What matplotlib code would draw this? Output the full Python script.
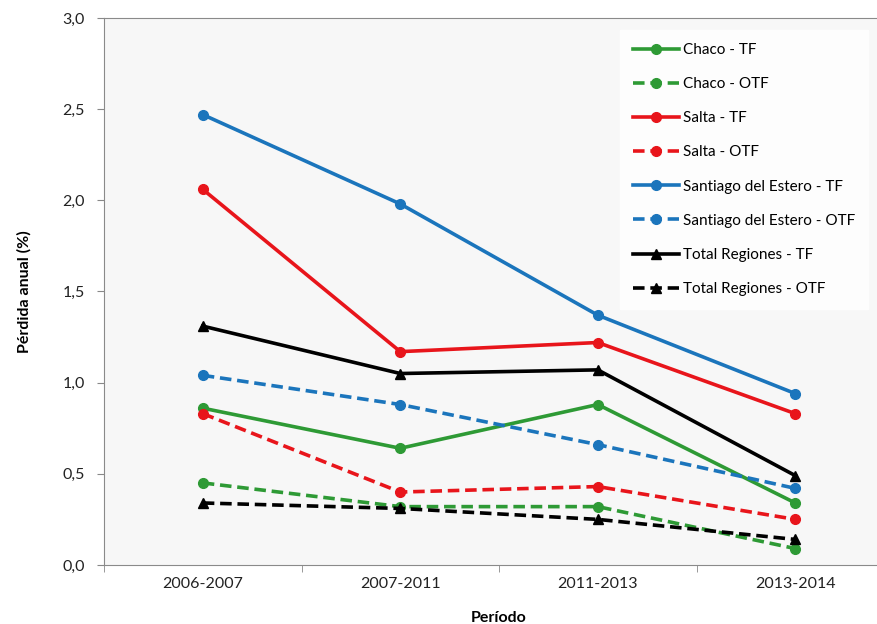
import matplotlib.pyplot as plt
from matplotlib.ticker import FixedLocator, FuncFormatter

plt.rcParams['font.family'] = ['Lato', 'DejaVu Sans']

# datos
periodos = ['2006-2007', '2007-2011', '2011-2013', '2013-2014']

chaco_tf = [0.86, 0.64, 0.88, 0.34]
chaco_otf = [0.45, 0.32, 0.32, 0.09]
salta_tf = [2.06, 1.17, 1.22, 0.83]
salta_otf = [0.83, 0.40, 0.43, 0.25]
santiago_tf = [2.47, 1.98, 1.37, 0.94]
santiago_otf = [1.04, 0.88, 0.66, 0.42]
total_tf = [1.31, 1.05, 1.07, 0.49]
total_otf = [0.34, 0.31, 0.25, 0.14]

verde = '#2e9a35'
rojo = '#e8151b'
azul = '#1b75bc'
negro = '#000000'

fig = plt.figure(figsize=(8.78, 6.24), dpi=100)
ax = fig.add_axes([0.1185, 0.0946, 0.8998, 0.8766])
ax.set_facecolor('#f7f7f7')

x = range(len(periodos))
dash = (0, (3.2, 1.6))
lw = 2.6
ms = 7

ax.plot(x, chaco_tf, color=verde, lw=lw, marker='o', ms=ms, label='Chaco - TF')
ax.plot(x, chaco_otf, color=verde, lw=lw, ls=dash, marker='o', ms=ms, label='Chaco - OTF')
ax.plot(x, salta_tf, color=rojo, lw=lw, marker='o', ms=ms, label='Salta - TF')
ax.plot(x, salta_otf, color=rojo, lw=lw, ls=dash, marker='o', ms=ms, label='Salta - OTF')
ax.plot(x, santiago_tf, color=azul, lw=lw, marker='o', ms=ms, label='Santiago del Estero - TF')
ax.plot(x, santiago_otf, color=azul, lw=lw, ls=dash, marker='o', ms=ms, label='Santiago del Estero - OTF')
ax.plot(x, total_tf, color=negro, lw=lw, marker='^', ms=ms, label='Total Regiones - TF')
ax.plot(x, total_otf, color=negro, lw=lw, ls=dash, marker='^', ms=ms, label='Total Regiones - OTF')

ax.set_xlim(-0.5, 3.5)
ax.set_ylim(0, 3.0)
ax.set_xticks(list(x))
ax.set_xticklabels(periodos)
ax.xaxis.set_minor_locator(FixedLocator([-0.5, 0.5, 1.5, 2.5, 3.5]))
ax.tick_params(axis='x', which='major', length=0, pad=9, labelsize=11.5, colors='#222222')
ax.tick_params(axis='x', which='minor', length=5, color='#888888')
ax.set_yticks([0, 0.5, 1.0, 1.5, 2.0, 2.5, 3.0])
ax.yaxis.set_major_formatter(FuncFormatter(lambda v, p: f'{v:.1f}'.replace('.', ',')))
ax.tick_params(axis='y', length=5, color='#888888', labelsize=11.5, colors='#222222', pad=9)

for lado in ['left', 'bottom', 'top']:
    ax.spines[lado].set_color('#8a8a8a')
ax.spines['right'].set_visible(False)

ax.set_xlabel('Período', fontsize=11.5, fontweight='bold', labelpad=14)
ax.set_ylabel('Pérdida anual (%)', fontsize=11.5, fontweight='bold', labelpad=22)

leg = ax.legend(loc='upper left', bbox_to_anchor=(0.653, 0.978), frameon=True,
                fontsize=11, labelspacing=1.32, handlelength=3.0, handletextpad=0.25,
                fancybox=False, borderpad=0.85, borderaxespad=0)
leg.get_frame().set_facecolor('white')
leg.get_frame().set_edgecolor('white')

fig.savefig('out.png', dpi=100)
